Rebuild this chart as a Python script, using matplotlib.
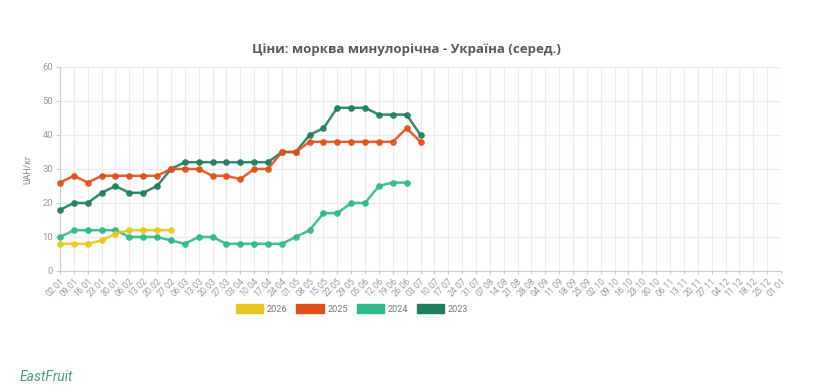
import matplotlib
matplotlib.use('Agg')
from matplotlib import pyplot as plt
from matplotlib.patches import Patch

plt.rcParams['font.family'] = ['Roboto', 'DejaVu Sans']

dates = ['02.01', '09.01', '16.01', '23.01', '30.01', '06.02', '13.02', '20.02', '27.02',
         '06.03', '13.03', '20.03', '27.03', '03.04', '10.04', '17.04', '24.04', '01.05',
         '08.05', '15.05', '22.05', '29.05', '05.06', '12.06', '19.06', '26.06', '03.07',
         '10.07', '17.07', '24.07', '31.07', '07.08', '14.08', '21.08', '28.08', '04.09',
         '11.09', '18.09', '25.09', '02.10', '09.10', '16.10', '23.10', '30.10', '06.11',
         '13.11', '20.11', '27.11', '04.12', '11.12', '18.12', '25.12', '01.01']

prices_2026 = [8, 8, 8, 9, 11, 12, 12, 12, 12]
prices_2025 = [26, 28, 26, 28, 28, 28, 28, 28, 30, 30, 30, 28, 28, 27, 30, 30, 35, 35,
               38, 38, 38, 38, 38, 38, 38, 42, 38]
prices_2024 = [10, 12, 12, 12, 12, 10, 10, 10, 9, 8, 10, 10, 8, 8, 8, 8, 8, 10,
               12, 17, 17, 20, 20, 25, 26, 26]
prices_2023 = [18, 20, 20, 23, 25, 23, 23, 25, 30, 32, 32, 32, 32, 32, 32, 32, 35, 35,
               40, 42, 48, 48, 48, 46, 46, 46, 40]

series = [
    ('2026', prices_2026, '#e6c81e'),
    ('2025', prices_2025, '#e2501a'),
    ('2024', prices_2024, '#2fba8a'),
    ('2023', prices_2023, '#1f7f5c'),
]

fig = plt.figure(figsize=(8.15, 3.92), dpi=100)
ax = fig.add_axes([60 / 815, 1 - 271 / 392, 721 / 815, 204 / 392])

# draw older years first so newer ones sit on top
for name, values, color in reversed(series):
    ax.plot(range(len(values)), values, color=color, lw=1.8, alpha=0.9,
            marker='o', markersize=3.8, clip_on=False, zorder=3)

ax.set_xlim(0, len(dates) - 1)
ax.set_ylim(0, 60)
ax.set_yticks(range(0, 61, 10))
ax.set_xticks(range(len(dates)))
ax.set_xticklabels(dates, rotation=45, ha='right', rotation_mode='anchor')
ax.tick_params(axis='x', labelsize=6.3, colors='#999999', length=2, pad=2)
ax.tick_params(axis='y', labelsize=6.8, colors='#999999', length=3, pad=2)
ax.tick_params(axis='both', color='#cccccc')
ax.grid(True, color='#ececec', lw=0.8)
ax.set_axisbelow(True)
for side in ('top', 'right'):
    ax.spines[side].set_visible(False)
for side in ('left', 'bottom'):
    ax.spines[side].set_color('#cccccc')
    ax.spines[side].set_linewidth(0.8)

ax.set_ylabel('UAH/кг', fontsize=6.3, color='#888888', labelpad=7)

fig.text(406 / 815, 1 - 50 / 392, 'Ціни: морква минулорічна - Україна (серед.)',
         ha='center', va='center', fontsize=9.5, fontweight='bold', color='#5a5a5a',
         family=['Open Sans', 'DejaVu Sans'])

handles = [Patch(facecolor=c, edgecolor=c, label=n) for n, v, c in series]
fig.legend(handles=handles, loc='center', bbox_to_anchor=(352 / 815, 1 - 309 / 392),
           ncol=4, frameon=False, fontsize=6.5, handlelength=3.0, handleheight=1.1,
           columnspacing=1.0, handletextpad=0.4, labelcolor='#777777')

fig.text(20 / 815, 1 - 377 / 392, 'EastFruit', ha='left', va='center', fontsize=10,
         style='italic', color='#4f9e78')

fig.savefig('out.png', dpi=100)
